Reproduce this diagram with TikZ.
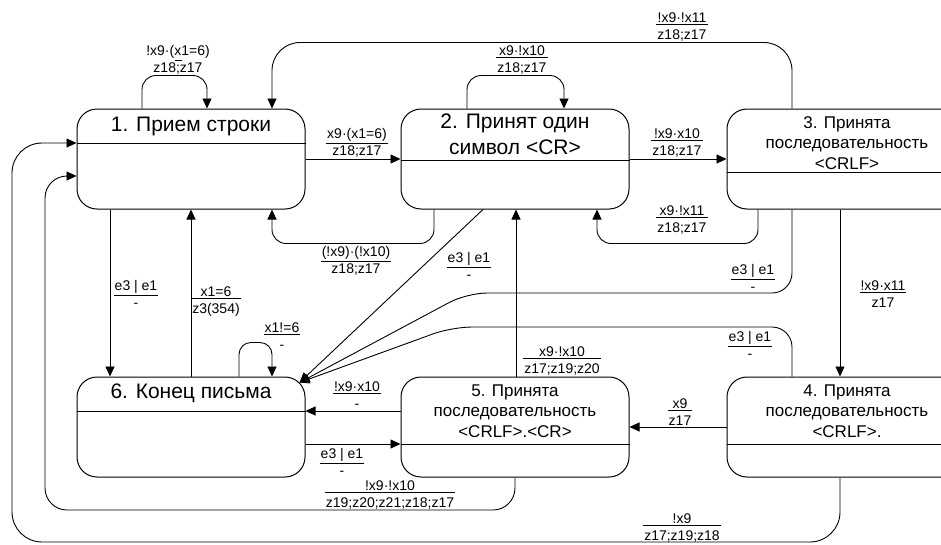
\documentclass[tikz,border=0pt]{standalone}
\usepackage{fontspec}
\setmainfont{Liberation Sans}
\usetikzlibrary{arrows.meta}
\newcommand\frc[2]{\setbox0=\hbox{#1}\setbox2=\hbox{#2}%
  \dimen0=\wd0 \ifdim\dimen0<\wd2 \dimen0=\wd2 \fi
  \advance\dimen0 by 2pt
  \underline{\hbox to \dimen0{\hss#1\hss}}\\#2}
\begin{document}
\begin{tikzpicture}[x=1pt,y=-1pt,
  box/.style={draw, line width=1pt, rounded corners=20pt, minimum width=228pt, minimum height=100pt, inner sep=0pt},
  ttl/.style={align=center, inner sep=0pt, font=\fontsize{21}{26}\selectfont},
  ttls/.style={align=center, inner sep=0pt, font=\fontsize{17}{20.5}\selectfont},
  lbl/.style={align=center, inner sep=0pt, font=\fontsize{14}{17}\selectfont},
  arr/.style={draw, line width=0.9pt, -{Triangle[length=10pt,width=9pt]}},
  dv/.style={draw, line width=1pt}]
\useasboundingbox (0,0) rectangle (941,544);
% boxes
\node[box] (b1) at (191,159) {};
\node[box] (b2) at (515,159) {};
\node[box, minimum width=240pt] (b3) at (847,159) {};
\node[box] (b6) at (191,427) {};
\node[box] (b5) at (515,427) {};
\node[box, minimum width=240pt] (b4) at (847,427) {};
\draw[dv] ([yshift=16pt]b1.west) -- ([yshift=16pt]b1.east);
\draw[dv] ([yshift=-1pt]b2.west) -- ([yshift=-1pt]b2.east);
\draw[dv] ([yshift=-13pt]b3.west) -- ([yshift=-13pt]b3.east);
\draw[dv] ([yshift=16pt]b6.west) -- ([yshift=16pt]b6.east);
\draw[dv] ([yshift=-17pt]b5.west) -- ([yshift=-17pt]b5.east);
\draw[dv] ([yshift=-17pt]b4.west) -- ([yshift=-17pt]b4.east);
% titles
\node[ttl] (t1) at (191,126) {1. Прием строки};
\node[ttl] (t2) at (515,134) {2. Принят один\\символ <CR>};
\node[ttls] (t3) at (847,143) {3. Принята\\последовательность\\<CRLF>};
\node[ttl] (t6) at (191,393) {6. Конец письма};
\node[ttls] (t5) at (515,411) {5. Принята\\последовательность\\<CRLF>.<CR>};
\node[ttls] (t4) at (847,411) {4. Принята\\последовательность\\<CRLF>.};
% helper coordinates
\coordinate (b6c) at ([xshift=-6pt,yshift=-6pt]b6.north east);
\coordinate (c12) at (467,293);
\coordinate (c13) at (452,327);
\coordinate (c19) at (45,510);
\coordinate (c20) at (12,542);
% connectors
\draw[arr, rounded corners=14pt] ([xshift=-49pt]b1.north) -- ++(0,-33) -| ([xshift=16pt]b1.north);
\draw[arr, rounded corners=28pt] ([xshift=-55pt]b3.north) -- ++(0,-66) -| ([xshift=81pt]b1.north);
\draw[arr] (b1.east) -- (b2.west);
\draw[arr, rounded corners=14pt] ([xshift=-48pt]b2.north) -- ++(0,-33) -| ([xshift=49pt]b2.north);
\draw[arr] (b2.east) -- (b3.west);
\draw[arr, rounded corners=14pt] ([xshift=-81pt]b2.south) -- ++(0,34) -| ([xshift=81pt]b1.south);
\draw[arr, rounded corners=14pt] ([xshift=-89pt]b3.south) -- ++(0,34) -| ([xshift=82pt]b2.south);
\draw[arr] ([xshift=-81pt]b1.south) -- ([xshift=-81pt]b6.north);
\draw[arr] (b6.north) -- (b1.south);
\draw[arr, rounded corners=12pt] ([xshift=48pt]b6.north) -- ++(0,-34) -| ([xshift=81pt]b6.north);
\draw[arr] ([xshift=-32pt]b2.south) -- (b6c);
\draw[arr, rounded corners=20pt] ([xshift=-55pt]b3.south) |- (c12) -- (b6c);
\draw[arr, rounded corners=20pt] ([xshift=-55pt]b4.north) |- (c13) -- (b6c);
\draw[arr] ([xshift=-7pt]b3.south) -- ([xshift=-7pt]b4.north);
\draw[arr] ([xshift=1pt]b5.north) -- ([xshift=1pt]b2.south);
\draw[arr] ([yshift=16pt]b5.west) -- ([yshift=16pt]b6.east);
\draw[arr] ([yshift=-17pt]b6.east) -- ([yshift=-17pt]b5.west);
\draw[arr] (b4.west) -- (b5.east);
\draw[arr, rounded corners=22pt] (b5.south) |- (c19) |- ([yshift=-17pt]b1.west);
\draw[arr, rounded corners=30pt] ([xshift=-7pt]b4.south) |- (c20) |- ([yshift=16pt]b1.west);
% labels
\node[lbl] (l1) at (178,60) {\frc{!x9·(x1=6)}{z18;z17}};
\node[lbl] (l2) at (682,27) {\frc{!x9·!x11}{z18;z17}};
\node[lbl] (l3) at (357,143) {\frc{x9·(x1=6)}{z18;z17}};
\node[lbl] (l4) at (522,60) {\frc{x9·!x10}{z18;z17}};
\node[lbl] (l5) at (677,143) {\frc{!x9·x10}{z18;z17}};
\node[lbl] (l6) at (356,261) {\frc{(!x9)·(!x10)}{z18;z17}};
\node[lbl] (l7) at (682,220) {\frc{x9·!x11}{z18;z17}};
\node[lbl] (l8) at (136,294) {\frc{e3 | e1}{-}};
\node[lbl] (l9) at (216,302) {\frc{x1=6}{z3(354)}};
\node[lbl] (l10) at (282,336) {\frc{x1!=6}{-}};
\node[lbl] (l11) at (469,266) {\frc{e3 | e1}{-}};
\node[lbl] (l12) at (753,278) {\frc{e3 | e1}{-}};
\node[lbl] (l13) at (750,345) {\frc{e3 | e1}{-}};
\node[lbl] (l14) at (883,294) {\frc{!x9·x11}{z17}};
\node[lbl] (l15) at (562,361) {\frc{x9·!x10}{z17;z19;z20}};
\node[lbl] (l16) at (357,395) {\frc{!x9·x10}{-}};
\node[lbl] (l17) at (342,462) {\frc{e3 | e1}{-}};
\node[lbl] (l18) at (680,412) {\frc{x9}{z17}};
\node[lbl] (l19) at (390,495) {\frc{!x9·!x10}{z19;z20;z21;z18;z17}};
\node[lbl] (l20) at (682,528) {\frc{!x9}{z17;z19;z18}};
\end{tikzpicture}
\end{document}
